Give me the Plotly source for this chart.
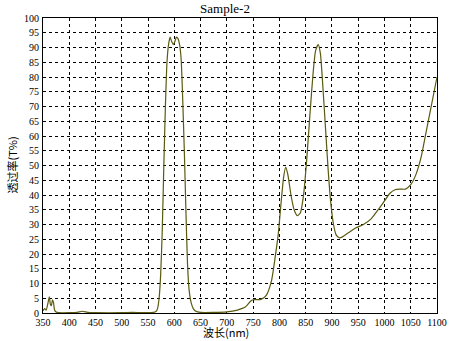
import plotly.graph_objects as go

wavelength = [350, 353, 356, 359, 362, 364, 366, 368, 370, 372, 375, 380, 400, 415, 425, 435, 450, 500, 520, 540,
              560, 565, 568, 571, 574, 577, 580, 583, 586, 589, 592, 595, 598, 601, 604, 607, 610, 613, 616, 619,
              622, 625, 628, 632, 636, 640, 650, 700, 720, 735, 745, 750, 765, 775, 785, 792, 798, 803, 808, 812,
              816, 822, 828, 834, 840, 846, 852, 858, 864, 869, 874, 878, 883, 888, 893, 898, 903, 908, 914, 920,
              930, 945, 960, 975, 990, 1000, 1010, 1020, 1030, 1040, 1050, 1060, 1070, 1080, 1090, 1100]
transmittance = [0.8, 1.5, 1.0, 3, 5.5, 3, 2.5, 4.5, 3.5, 1, 0.3, 0.1, 0.1, 0.2, 0.6, 0.2, 0.1, 0.1, 0.2, 0.1,
                 0.2, 0.5, 1.5, 5, 13, 28, 50, 70, 85, 91, 93.5, 92, 91, 92, 93.5, 93, 91, 86, 72, 55,
                 35, 17, 8, 3.5, 1.5, 0.7, 0.2, 0.4, 1, 2, 4, 4.5, 4.6, 6, 11, 19, 27, 37, 46, 49.5,
                 47, 40, 35, 33, 34, 40, 52, 67, 81, 89, 91, 88, 76, 62, 48, 37, 30, 26.5, 25.5, 25.8,
                 27, 28.8, 30, 32, 35.5, 38, 40.5, 41.8, 42, 42, 43.5, 47, 53, 62, 71, 80]

x_ticks = list(range(350, 1101, 50))
y_ticks = list(range(0, 101, 5))

fig = go.Figure()
fig.add_trace(go.Scatter(x=wavelength, y=transmittance, mode="lines",
                         line=dict(color="#5a5a10", width=1.2, shape="spline", smoothing=0.6),
                         showlegend=False, hoverinfo="skip"))

serif = "Liberation Serif, Times New Roman, serif"
fig.update_layout(
    width=450, height=341,
    margin=dict(l=43, r=13, t=18, b=28, autoexpand=False),
    paper_bgcolor="white", plot_bgcolor="white",
    title=dict(text="Sample-2", x=0.5, xanchor="center", y=0.99, yanchor="top",
               font=dict(family=serif, size=13, color="black")),
    font=dict(family=serif, size=10, color="black"),
)
fig.update_xaxes(range=[350, 1100], tickvals=x_ticks, ticktext=[str(v) for v in x_ticks],
                 showgrid=True, gridcolor="black", griddash="dot", gridwidth=1,
                 showline=True, linecolor="black", linewidth=1, mirror=True,
                 ticks="", zeroline=False, automargin=False,
                 tickfont=dict(family=serif, size=10))
fig.update_yaxes(range=[0, 100], tickvals=y_ticks, ticktext=[str(v) for v in y_ticks],
                 showgrid=True, gridcolor="black", griddash="dot", gridwidth=1,
                 showline=True, linecolor="black", linewidth=1, mirror=True,
                 ticks="outside", ticklen=1, tickcolor="white", zeroline=False,
                 automargin=False,
                 tickfont=dict(family=serif, size=10))
fig.add_annotation(text="透过率(T%)", xref="paper", yref="paper", x=0, y=0.5,
                   xanchor="center", yanchor="middle", xshift=-32, textangle=-90,
                   showarrow=False,
                   font=dict(family="Noto Sans CJK SC", size=11, color="black"))
fig.add_annotation(text="波长(nm)", xref="paper", yref="paper", x=0.464, y=0,
                   xanchor="center", yanchor="bottom", yshift=-28, borderpad=0,
                   showarrow=False,
                   font=dict(family="Noto Sans CJK SC", size=11, color="black"))

fig.write_html("out.html", config={"displayModeBar": False},
               post_script="document.body.style.margin='0';")
